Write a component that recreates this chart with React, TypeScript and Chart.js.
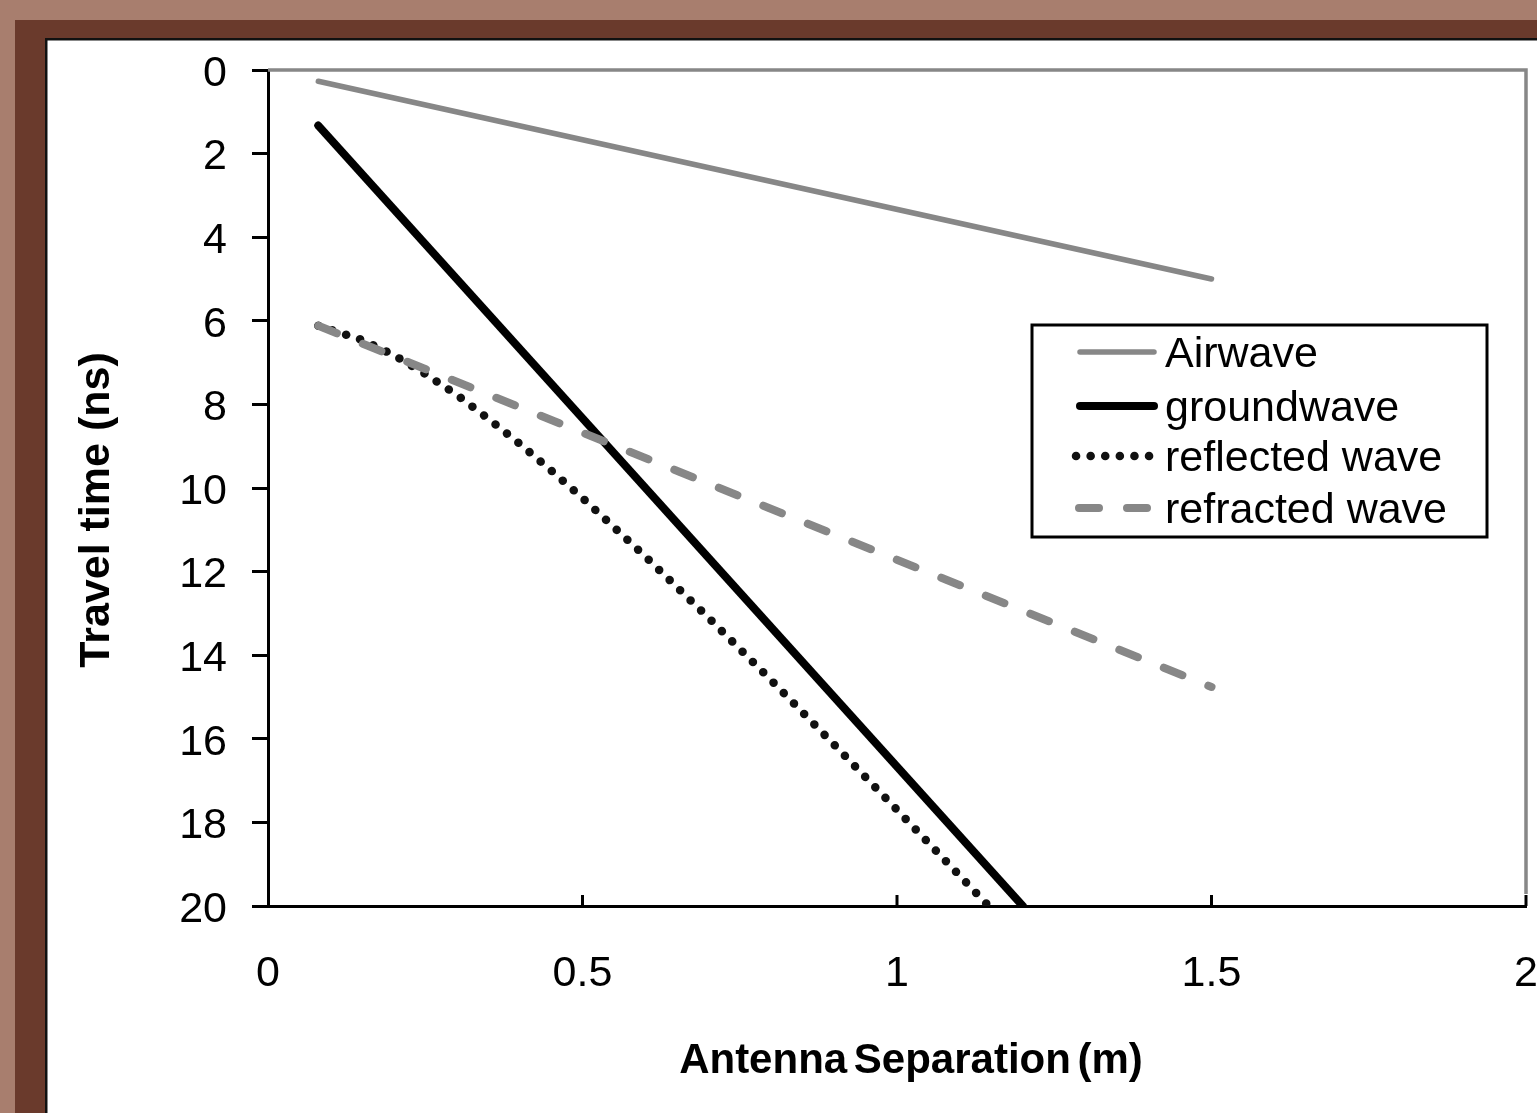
import { useEffect, useRef } from "react";
import { Chart, registerables } from "chart.js";

Chart.register(...registerables);

// ---- data ----
const airwaveX = [0.08, 1.5];
const airwaveT = [0.27, 5.0];
const groundwaveX = [0.08, 1.2];
const groundwaveT = [1.33, 20.0];
const reflectedX = [0.08, 0.15, 0.2, 0.25, 0.3, 0.35, 0.4, 0.45, 0.5, 0.6, 0.7, 0.8, 0.9, 1.0, 1.1, 1.15];
const reflectedT = [6.12, 6.46, 6.82, 7.27, 7.77, 8.34, 8.94, 9.58, 10.24, 11.64, 13.1, 14.6, 16.14, 17.7, 19.28, 20.07];
const refractedX = [0.08, 1.5];
const refractedT = [6.12, 14.76];
const seriesNames = ["Airwave", "groundwave", "reflected wave", "refracted wave"];
const xTickValues = [0, 0.5, 1, 1.5, 2];
const xTitle = "Antenna Separation (m)";
const yTitle = "Travel time (ns)";

const W = 1537;
const H = 1113;
const FONT = "'Liberation Sans', Arial, Helvetica, sans-serif";
const GRAY = "#878787";

const pts = (xs: number[], ys: number[]) => xs.map((x, i) => ({ x, y: ys[i] }));

const framePlugin = {
  id: "frame",
  beforeDraw(chart: any) {
    const ctx = chart.ctx;
    ctx.save();
    ctx.fillStyle = "#a87e6e";
    ctx.fillRect(0, 0, W, H);
    ctx.fillStyle = "#6a3a2c";
    ctx.fillRect(15, 20, W - 15, H - 20);
    ctx.fillStyle = "#111111";
    ctx.fillRect(45, 38, W - 45, H - 38);
    ctx.fillStyle = "#ffffff";
    ctx.fillRect(47.5, 40.5, W - 47.5, H - 40.5);
    ctx.restore();
  },
  afterDraw(chart: any) {
    const ctx = chart.ctx;
    const { left, right, top, bottom } = chart.chartArea;
    const xs = chart.scales.x;
    ctx.save();
    // gray top & right frame
    ctx.strokeStyle = GRAY;
    ctx.lineWidth = 3.5;
    ctx.beginPath();
    ctx.moveTo(left, top);
    ctx.lineTo(right, top);
    ctx.lineTo(right, bottom - 12);
    ctx.stroke();
    // x tick marks pointing up
    ctx.strokeStyle = "#000";
    ctx.lineWidth = 3;
    xTickValues.forEach((v) => {
      if (v === 0) return;
      const px = xs.getPixelForValue(v);
      ctx.beginPath();
      ctx.moveTo(px, bottom);
      ctx.lineTo(px, bottom - 11);
      ctx.stroke();
    });
    // axis titles
    ctx.fillStyle = "#000";
    ctx.font = `bold 42px ${FONT}`;
    ctx.textAlign = "center";
    ctx.textBaseline = "alphabetic";
    (ctx as any).wordSpacing = "-5px";
    ctx.fillText(xTitle, 911, 1073);
    (ctx as any).wordSpacing = "0px";
    ctx.font = `bold 43px ${FONT}`;
    ctx.save();
    ctx.translate(109, 510);
    ctx.rotate(-Math.PI / 2);
    ctx.fillText(yTitle, 0, 0);
    ctx.restore();
    // legend
    const bx = 1032, by = 325, bw = 455, bh = 212;
    ctx.fillStyle = "#fff";
    ctx.fillRect(bx, by, bw, bh);
    ctx.strokeStyle = "#000";
    ctx.lineWidth = 3;
    ctx.strokeRect(bx, by, bw, bh);
    const rows = [352, 406, 456, 508];
    const ds = chart.data.datasets;
    rows.forEach((ry, i) => {
      const d = ds[i];
      ctx.save();
      ctx.strokeStyle = d.borderColor;
      ctx.lineWidth = d.borderWidth;
      ctx.lineCap = d.borderCapStyle || "butt";
      ctx.setLineDash(d.borderDash || []);
      ctx.beginPath();
      if (i === 2) {
        ctx.moveTo(1076, ry);
        ctx.lineTo(1150, ry);
      } else if (i === 3) {
        ctx.moveTo(1079, ry);
        ctx.lineTo(1148, ry);
      } else {
        ctx.moveTo(1080, ry);
        ctx.lineTo(1154, ry);
      }
      ctx.stroke();
      ctx.restore();
      ctx.fillStyle = "#000";
      ctx.font = `43px ${FONT}`;
      ctx.textAlign = "left";
      ctx.fillText(seriesNames[i], 1165, ry + 15);
    });
    ctx.restore();
  },
};

export default function App() {
  const ref = useRef<HTMLCanvasElement | null>(null);
  useEffect(() => {
    document.body.style.margin = "0";
    document.body.style.overflow = "hidden";
    if (!ref.current) return;
    Chart.defaults.font.family = FONT;
    const chart = new Chart(ref.current, {
      type: "line",
      data: {
        datasets: [
          {
            label: seriesNames[0],
            data: pts(airwaveX, airwaveT),
            borderColor: GRAY,
            borderWidth: 5.5,
            borderCapStyle: "round",
            pointRadius: 0,
            order: 3,
          },
          {
            label: seriesNames[1],
            data: pts(groundwaveX, groundwaveT),
            borderColor: "#000000",
            borderWidth: 8,
            borderCapStyle: "round",
            pointRadius: 0,
            order: 2,
          },
          {
            label: seriesNames[2],
            data: pts(reflectedX, reflectedT),
            borderColor: "#111111",
            borderWidth: 8.5,
            borderCapStyle: "round",
            borderDash: [0.1, 14.5],
            pointRadius: 0,
            order: 1,
          },
          {
            label: seriesNames[3],
            data: pts(refractedX, refractedT),
            borderColor: GRAY,
            borderWidth: 8,
            borderCapStyle: "round",
            borderDash: [20, 28],
            pointRadius: 0,
            order: 0,
          },
        ] as any,
      },
      options: {
        responsive: false,
        animation: false,
        devicePixelRatio: 1,
        layout: { padding: { left: 0, top: 70, right: 11, bottom: 0 } },
        plugins: { legend: { display: false }, tooltip: { enabled: false } },
        elements: { line: { tension: 0 } },
        scales: {
          x: {
            type: "linear",
            min: 0,
            max: 2,
            afterFit: (s: any) => {
              s.height = 207;
              s.paddingRight = 0;
              s.paddingLeft = 0;
            },
            ticks: {
              stepSize: 0.5,
              color: "#000",
              font: { size: 43 },
              padding: 42,
              maxRotation: 0,
              callback: (v: any) => String(Number(v)),
            },
            grid: { display: true, drawOnChartArea: false, drawTicks: false },
            border: { display: true, color: "#000", width: 3 },
          },
          y: {
            type: "linear",
            min: 0,
            max: 20,
            reverse: true,
            afterFit: (s: any) => {
              s.width = 268;
            },
            ticks: { stepSize: 2, color: "#000", font: { size: 43 }, padding: 25, labelOffset: 4 },
            grid: { display: true, drawOnChartArea: false, drawTicks: true, tickLength: 16, tickColor: "#000", tickWidth: 3 },
            border: { display: true, color: "#000", width: 3 },
          },
        },
      } as any,
      plugins: [framePlugin],
    });
    return () => chart.destroy();
  }, []);
  return <canvas ref={ref} width={W} height={H} style={{ display: "block" }} />;
}
